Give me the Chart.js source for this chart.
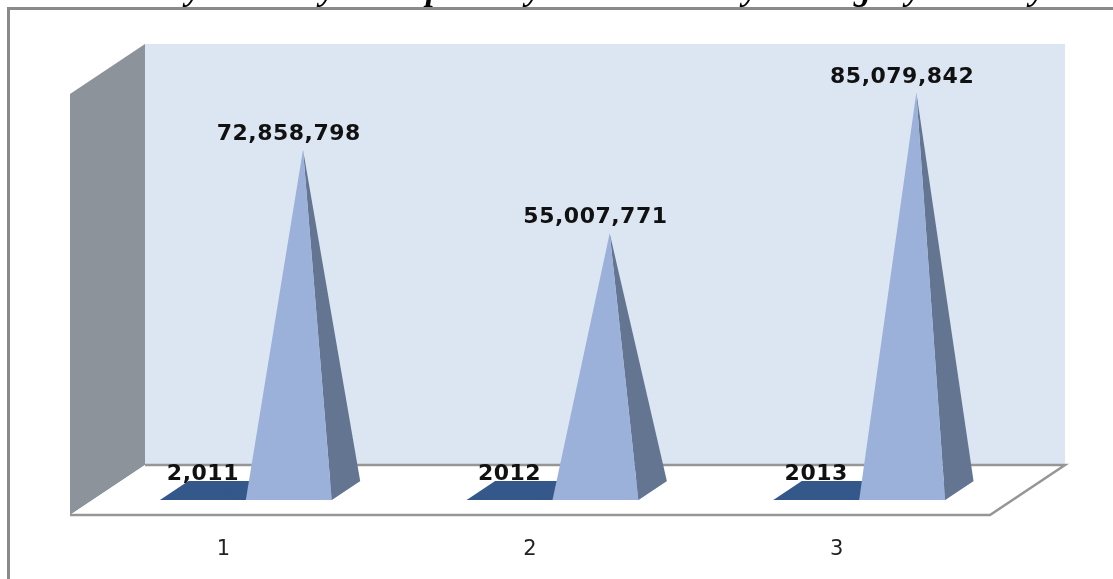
<!DOCTYPE html>
<html>
<head>
<meta charset="utf-8">
<title>Pyramid chart</title>
<script src="https://cdn.jsdelivr.net/npm/chart.js@4/dist/chart.umd.min.js"></script>
<style>
  body { margin: 0; background: #fff; overflow: hidden; }
  canvas { display: block; }
</style>
</head>
<body>
<canvas id="pyramidChart" width="1113" height="579"></canvas>
<script>
const categories = ["1", "2", "3"];
const yearValues = [2011, 2012, 2013];
const yearLabels = ["2,011", "2012", "2013"];
const amountValues = [72858798, 55007771, 85079842];
const amountLabels = ["72,858,798", "55,007,771", "85,079,842"];

// the title is cut off by the top of the picture, only its descenders show
const titleLetters = ["y", "y", "p", "y", "y", "g", "y", "y"];
const titleLetterX = [186, 320, 426, 526, 743, 854, 906, 1030];

// 3D box depth, in pixels
const depthX = 75;
const depthY = 50;

const seriesColors = [
  { front: "#34588a", side: "#34588a" },
  { front: "#9bb1da", side: "#647591" }
];

function poly(ctx, pts, fill) {
  ctx.beginPath();
  pts.forEach((p, i) => (i ? ctx.lineTo(p[0], p[1]) : ctx.moveTo(p[0], p[1])));
  ctx.closePath();
  ctx.fillStyle = fill;
  ctx.fill();
}

// frame, cut-off title, walls and floor
const wallsPlugin = {
  id: "walls",
  beforeDatasetsDraw(chart) {
    const ctx = chart.ctx;
    const { left, right, top, bottom } = chart.chartArea;
    ctx.save();

    ctx.fillStyle = "#000";
    ctx.font = "italic bold 34px 'Liberation Serif'";
    ctx.textAlign = "left";
    ctx.textBaseline = "alphabetic";
    titleLetters.forEach((ch, i) => ctx.fillText(ch, titleLetterX[i], 0));

    ctx.strokeStyle = "#8a8a8a";
    ctx.lineWidth = 3;
    ctx.beginPath();
    ctx.moveTo(8.5, chart.height);
    ctx.lineTo(8.5, 8.5);
    ctx.lineTo(chart.width, 8.5);
    ctx.stroke();

    poly(ctx, [[left + depthX, top - depthY], [right + depthX, top - depthY],
      [right + depthX, bottom - depthY], [left + depthX, bottom - depthY]], "#dce6f2");
    poly(ctx, [[left, top], [left + depthX, top - depthY],
      [left + depthX, bottom - depthY], [left, bottom]], "#8c939b");

    poly(ctx, [[left, bottom], [left + depthX, bottom - depthY],
      [right + depthX, bottom - depthY], [right, bottom]], "#fff");
    ctx.strokeStyle = "#969696";
    ctx.lineWidth = 2.5;
    ctx.beginPath();
    ctx.moveTo(left + depthX, bottom - depthY);
    ctx.lineTo(right + depthX, bottom - depthY);
    ctx.lineTo(right, bottom);
    ctx.lineTo(left, bottom);
    ctx.stroke();
    ctx.restore();
  }
};

// Chart.js has no pyramid bars, so draw them from the bar elements
const pyramidPlugin = {
  id: "pyramids",
  afterDatasetsDraw(chart) {
    const ctx = chart.ctx;
    const baseY = chart.scales.y.getPixelForValue(0);
    const nearDepth = 15;
    const farDepth = 34;
    const midDepth = (nearDepth + farDepth) / 2;
    const ratio = depthX / depthY;

    chart.data.datasets.forEach((ds, d) => {
      const colors = seriesColors[d];
      chart.getDatasetMeta(d).data.forEach(bar => {
        const half = bar.width / 2;
        const nearX = ratio * nearDepth;
        const farX = ratio * farDepth;
        const fl = [bar.x - half + nearX, baseY - nearDepth];
        const fr = [bar.x + half + nearX, baseY - nearDepth];
        const bl = [bar.x - half + farX, baseY - farDepth];
        const br = [bar.x + half + farX, baseY - farDepth];
        const apex = [bar.x + ratio * midDepth, bar.y - midDepth];
        poly(ctx, [fl, fr, br, bl], colors.front);
        poly(ctx, [fr, br, apex], colors.side);
        poly(ctx, [fl, fr, apex], colors.front);
      });
    });

    ctx.save();
    ctx.fillStyle = "#111";
    ctx.font = "bold 22px 'DejaVu Sans'";
    ctx.letterSpacing = "0.5px";
    ctx.textAlign = "center";
    ctx.textBaseline = "alphabetic";
    chart.data.datasets.forEach((ds, d) => {
      chart.getDatasetMeta(d).data.forEach((bar, i) => {
        ctx.fillText(ds.valueLabels[i], bar.x + ratio * nearDepth, bar.y - midDepth - 10);
      });
    });
    ctx.restore();
  }
};

new Chart(document.getElementById("pyramidChart"), {
  type: "bar",
  data: {
    labels: categories,
    datasets: [
      { label: "Year", data: yearValues, valueLabels: yearLabels, backgroundColor: "transparent" },
      { label: "Amount", data: amountValues, valueLabels: amountLabels, backgroundColor: "transparent" }
    ]
  },
  plugins: [wallsPlugin, pyramidPlugin],
  options: {
    responsive: false,
    animation: false,
    layout: { padding: { left: 70, right: 123, top: 94, bottom: 0 } },
    categoryPercentage: 0.56,
    barPercentage: 1,
    plugins: { legend: { display: false }, tooltip: { enabled: false } },
    scales: {
      x: {
        grid: { display: false, drawTicks: false },
        border: { display: false },
        afterFit(scale) { scale.height = 64; },
        ticks: { padding: 22, color: "#222", font: { family: "'DejaVu Sans'", size: 21 } }
      },
      y: { display: false, min: 0, max: 90000000 }
    }
  }
});
</script>
</body>
</html>
